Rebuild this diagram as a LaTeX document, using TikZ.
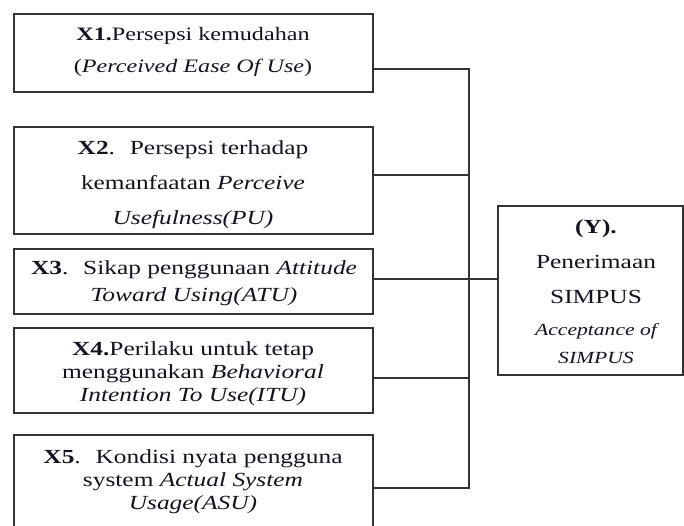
\documentclass[tikz,border=0pt]{standalone}
\usepackage{fontspec}
\setmainfont{Liberation Serif}[FakeStretch=1.27]
\definecolor{linegray}{HTML}{333333}
\definecolor{inkc}{HTML}{141420}
\begin{document}
\begin{tikzpicture}[x=1pt,y=-1pt,
  box/.style={draw=linegray, line width=1.4pt, inner sep=0pt, fill=white},
  conn/.style={draw=linegray, line width=1.4pt},
  txt/.style={align=center, inner sep=0pt, anchor=base, text=inkc}]
\useasboundingbox (0,0) rectangle (684,525);
% boxes
\node[box, minimum width=359pt, minimum height=78pt]  (X1) at (193.5,53) {};
\node[box, minimum width=359pt, minimum height=107pt] (X2) at (193.5,180.5) {};
\node[box, minimum width=359pt, minimum height=65pt]  (X3) at (193.5,281.5) {};
\node[box, minimum width=359pt, minimum height=85pt]  (X4) at (193.5,370.5) {};
\node[box, minimum width=359pt, minimum height=100pt] (X5) at (193.5,485) {};
\node[box, minimum width=185pt, minimum height=169pt] (Y)  at (590.5,290.5) {};
% texts (anchor base = baseline of last line)
\node[txt, font=\fontsize{19}{32}\selectfont] (t1) at (193,72)
  {\textbf{X1.}Persepsi kemudahan\\(\textit{Perceived Ease Of Use})};
\node[txt, font=\fontsize{20}{35}\selectfont] (t2) at (193,224)
  {\textbf{X2}. \ Persepsi terhadap\\kemanfaatan \textit{Perceive}\\\textit{Usefulness(PU)}};
\node[txt, font=\fontsize{20}{27}\selectfont] (t3) at (194,301)
  {\textbf{X3}. \ Sikap penggunaan \textit{Attitude}\\\textit{Toward Using(ATU)}};
\node[txt, font=\fontsize{20}{23}\selectfont] (t4) at (193,401)
  {\textbf{X4.}Perilaku untuk tetap\\menggunakan \textit{Behavioral}\\\textit{Intention To Use(ITU)}};
\node[txt, font=\fontsize{20}{23}\selectfont] (t5) at (193,509)
  {\textbf{X5}. \ Kondisi nyata pengguna\\system \textit{Actual System}\\\textit{Usage(ASU)}};
\node[txt, font=\fontsize{20}{35}\selectfont] (ty1) at (596,303)
  {\textbf{(Y).}\\Penerimaan\\SIMPUS};
\node[txt, font=\fontsize{17}{28}\selectfont\itshape] (ty2) at (596,363)
  {Acceptance of\\SIMPUS};
% connectors
\coordinate (b1) at (469,69);
\coordinate (b2) at (469,175);
\coordinate (b3) at (469,279);
\coordinate (b4) at (469,378);
\coordinate (b5) at (469,488);
\draw[conn] (X1.east |- b1) -- (b1) -- (b5) -- (X5.east |- b5);
\draw[conn] (X2.east |- b2) -- (b2);
\draw[conn] (X3.east |- b3) -- (b3) -- (Y.west |- b3);
\draw[conn] (X4.east |- b4) -- (b4);
\end{tikzpicture}
\end{document}
